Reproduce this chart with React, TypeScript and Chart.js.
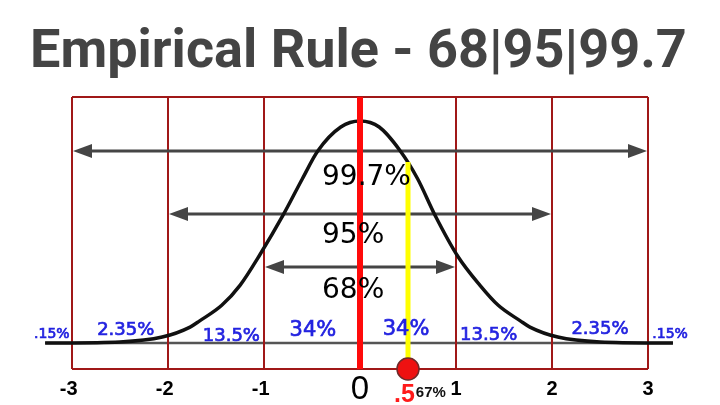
import React, { useEffect, useRef } from "react";
import { Chart, registerables } from "chart.js";

Chart.register(...registerables);

// ---- data ----
const titleText = "Empirical Rule - 68|95|99.7";
const boundaries = [-3, -2, -1, 0, 1, 2, 3];
const tickLabels = ["-3", "-2", "-1", "0", "1", "2", "3"];
const curveX = [-3.28, -2.5, -2.06, -1.77, -1.67, -1.44, -1.25, -1.04, -0.8, -0.6, -0.44, -0.2, 0, 0.2, 0.42, 0.6, 0.78, 1.02, 1.25, 1.44, 1.67, 1.77, 2.06, 2.5, 3.26];
const curveY = [0, 0.005, 0.027, 0.072, 0.1, 0.17, 0.26, 0.4, 0.577, 0.74, 0.865, 0.973, 1, 0.973, 0.865, 0.74, 0.577, 0.39, 0.26, 0.17, 0.1, 0.072, 0.027, 0.005, 0];
const arrowSigmas = [3, 2, 1];
const arrowLabels = ["99.7%", "95%", "68%"];
const bandLabels = [".15%", "2.35%", "13.5%", "34%", "34%", "13.5%", "2.35%", ".15%"];
const markerX = 0.5;
const markerTop = 0.815;
const markerLabel = ".5";
const markerPct = "67%";

// ---- layout (positions / styles only) ----
const X_MIN = -3.75;
const X_MAX = 3.75;
const Y_MIN = -0.279;
const Y_MAX = 1.545;
const FRAME_TOP = 1.108;
const FRAME_BOTTOM = -0.117;
const ARROW_LEVELS = [0.865, 0.581, 0.342];
const ARROW_TEXT_Y = [0.712, 0.45, 0.203];
// blue label layout: x in axis units, baseline in pixels, font size
const BAND_LAYOUT = [
  { x: -3.21, yb: 338, size: 14 },
  { x: -2.44, yb: 335, size: 18 },
  { x: -1.34, yb: 341, size: 18 },
  { x: -0.49, yb: 336, size: 21 },
  { x: 0.48, yb: 335, size: 21 },
  { x: 1.34, yb: 340, size: 18 },
  { x: 2.5, yb: 334, size: 18 },
  { x: 3.23, yb: 338, size: 14 },
];

const annotate = {
  id: "annotate",
  beforeDatasetsDraw(chart: any) {
    const { ctx } = chart;
    const xs = chart.scales.x;
    const ys = chart.scales.y;
    const px = (v: number) => xs.getPixelForValue(v);
    const py = (v: number) => ys.getPixelForValue(v);
    ctx.save();

    // title
    ctx.fillStyle = "#444444";
    ctx.font = "700 54px Roboto";
    ctx.textAlign = "left";
    ctx.textBaseline = "alphabetic";
    ctx.fillText(titleText, 30, 67, 660);

    // baseline
    ctx.strokeStyle = "#555555";
    ctx.lineWidth = 2.5;
    ctx.beginPath();
    ctx.moveTo(px(curveX[0]), py(0));
    ctx.lineTo(px(curveX[curveX.length - 1]), py(0));
    ctx.stroke();

    // frame
    const first = boundaries[0];
    const last = boundaries[boundaries.length - 1];
    ctx.strokeStyle = "#a01818";
    ctx.lineWidth = 2;
    ctx.beginPath();
    ctx.moveTo(px(first), py(FRAME_TOP));
    ctx.lineTo(px(last), py(FRAME_TOP));
    ctx.moveTo(px(first), py(FRAME_BOTTOM));
    ctx.lineTo(px(last), py(FRAME_BOTTOM));
    boundaries.forEach((b) => {
      if (b === 0) return;
      ctx.moveTo(px(b), py(FRAME_TOP));
      ctx.lineTo(px(b), py(FRAME_BOTTOM));
    });
    ctx.stroke();

    // arrows
    const headLen = 19;
    const headHalf = 7;
    ctx.strokeStyle = "#454545";
    ctx.fillStyle = "#454545";
    ctx.lineWidth = 3;
    arrowSigmas.forEach((s, i) => {
      const y = py(ARROW_LEVELS[i]);
      const x1 = px(-s) + 1;
      const x2 = px(s) - 1;
      ctx.beginPath();
      ctx.moveTo(x1 + headLen - 2, y);
      ctx.lineTo(x2 - headLen + 2, y);
      ctx.stroke();
      ctx.beginPath();
      ctx.moveTo(x1, y);
      ctx.lineTo(x1 + headLen, y - headHalf);
      ctx.lineTo(x1 + headLen, y + headHalf);
      ctx.closePath();
      ctx.fill();
      ctx.beginPath();
      ctx.moveTo(x2, y);
      ctx.lineTo(x2 - headLen, y - headHalf);
      ctx.lineTo(x2 - headLen, y + headHalf);
      ctx.closePath();
      ctx.fill();
    });
    ctx.restore();
  },
  afterDatasetsDraw(chart: any) {
    const { ctx } = chart;
    const xs = chart.scales.x;
    const ys = chart.scales.y;
    const px = (v: number) => xs.getPixelForValue(v);
    const py = (v: number) => ys.getPixelForValue(v);
    ctx.save();

    // red mean line
    ctx.strokeStyle = "#ff0a0a";
    ctx.lineWidth = 6;
    ctx.beginPath();
    ctx.moveTo(px(0), py(FRAME_TOP));
    ctx.lineTo(px(0), py(FRAME_BOTTOM));
    ctx.stroke();

    // arrow labels
    ctx.fillStyle = "#000000";
    ctx.font = "28px 'DejaVu Sans'";
    ctx.textAlign = "left";
    ctx.textBaseline = "alphabetic";
    arrowLabels.forEach((t, i) => {
      ctx.fillText(t, px(0) - 38, py(ARROW_TEXT_Y[i]));
    });

    // band labels (slightly emboldened)
    ctx.fillStyle = "#2323e0";
    ctx.strokeStyle = "#2323e0";
    ctx.lineWidth = 0.7;
    ctx.textAlign = "center";
    bandLabels.forEach((t, i) => {
      const l = BAND_LAYOUT[i];
      ctx.font = `${l.size}px 'DejaVu Sans'`;
      ctx.fillText(t, px(l.x), l.yb);
      ctx.strokeText(t, px(l.x), l.yb);
    });

    // tick labels
    ctx.fillStyle = "#000000";
    boundaries.forEach((b, i) => {
      const t = tickLabels[i];
      if (b === 0) {
        ctx.font = "33px 'Liberation Sans'";
        ctx.textAlign = "center";
        ctx.fillText(t, px(b), 399);
        return;
      }
      ctx.font = "bold 20px 'Liberation Sans'";
      const digit = t.replace("-", "");
      const w = ctx.measureText(digit).width;
      ctx.textAlign = "right";
      ctx.fillText(t, px(b) + w / 2, 395);
    });

    // marker labels
    ctx.textAlign = "left";
    ctx.fillStyle = "#ff1a1a";
    ctx.font = "bold 25px 'Liberation Sans'";
    const mx = px(markerX) - 14;
    ctx.fillText(markerLabel, mx, 402);
    const mw = ctx.measureText(markerLabel).width;
    ctx.fillStyle = "#111111";
    ctx.font = "bold 15px 'Liberation Sans'";
    ctx.fillText(markerPct, mx + mw + 1, 397);

    ctx.restore();
  },
};

export default function App() {
  const ref = useRef<HTMLCanvasElement | null>(null);
  useEffect(() => {
    if (!ref.current) return;
    const chart = new Chart(ref.current, {
      type: "line",
      data: {
        datasets: [
          {
            data: curveX.map((x, i) => ({ x, y: curveY[i] })),
            borderColor: "#111111",
            borderWidth: 3.5,
            pointRadius: 0,
            cubicInterpolationMode: "monotone",
            fill: false,
            order: 3,
          },
          {
            data: [
              { x: markerX, y: FRAME_BOTTOM },
              { x: markerX, y: markerTop },
            ],
            borderColor: "#ffff00",
            borderWidth: 5,
            pointRadius: 0,
            fill: false,
            order: 2,
          },
          {
            data: [{ x: markerX, y: FRAME_BOTTOM }],
            showLine: false,
            pointRadius: 11,
            pointBackgroundColor: "#ee1111",
            pointBorderColor: "#6e2a2a",
            pointBorderWidth: 1.5,
            order: 1,
          },
        ],
      },
      options: {
        responsive: false,
        animation: false,
        events: [],
        layout: { padding: 0, autoPadding: false },
        plugins: { legend: { display: false }, tooltip: { enabled: false }, title: { display: false } },
        scales: {
          x: { type: "linear", min: X_MIN, max: X_MAX, display: false },
          y: { type: "linear", min: Y_MIN, max: Y_MAX, display: false },
        },
      },
      plugins: [annotate],
    } as any);
    return () => chart.destroy();
  }, []);
  return (
    <div style={{ position: "absolute", left: 0, top: 0, width: 720, height: 405, background: "#ffffff" }}>
      <canvas ref={ref} width={720} height={405} />
    </div>
  );
}
